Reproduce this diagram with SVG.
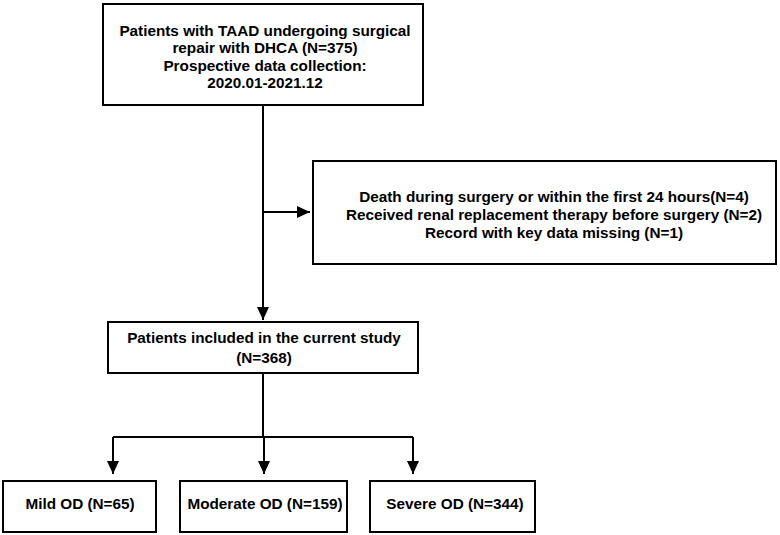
<svg xmlns="http://www.w3.org/2000/svg" width="780" height="535" viewBox="0 0 780 535">
<style>
.box{fill:#fff;stroke:#000;stroke-width:2}
.t{font-family:"Liberation Sans",Arial,sans-serif;font-weight:bold;font-size:15.3px;fill:#000;text-anchor:middle}
.ln{fill:none;stroke:#000;stroke-width:2}
</style>
<defs>
<marker id="ah" markerWidth="6.5" markerHeight="6" refX="6.5" refY="3" orient="auto" markerUnits="strokeWidth">
<path d="M0,0 L6.5,3 L0,6 Z" fill="#000"/>
</marker>
</defs>
<rect width="780" height="535" fill="#fff"/>
<g id="connectors">
<path class="ln" d="M263,105 V320" marker-end="url(#ah)"/>
<path class="ln" d="M263,212 H310" marker-end="url(#ah)"/>
<path class="ln" d="M263,373 V437"/>
<path class="ln" d="M113,437 H413"/>
<path class="ln" d="M113,437 V474" marker-end="url(#ah)"/>
<path class="ln" d="M264,437 V474" marker-end="url(#ah)"/>
<path class="ln" d="M413,437 V474" marker-end="url(#ah)"/>
</g>
<g id="n1">
<rect class="box" x="103" y="4" width="320" height="101"/>
<text class="t" x="265" y="35.5">Patients with TAAD undergoing surgical</text>
<text class="t" x="265" y="53">repair with DHCA (N=375)</text>
<text class="t" x="265" y="70.5">Prospective data collection:</text>
<text class="t" x="265" y="88">2020.01-2021.12</text>
</g>
<g id="n2">
<rect class="box" x="313" y="161" width="463" height="103"/>
<text class="t" x="554" y="202">Death during surgery or within the first 24 hours(N=4)</text>
<text class="t" x="554" y="220">Received renal replacement therapy before surgery (N=2)</text>
<text class="t" x="554" y="237.5">Record with key data missing (N=1)</text>
</g>
<g id="n3">
<rect class="box" x="108" y="322" width="310" height="51"/>
<text class="t" x="264" y="343">Patients included in the current study</text>
<text class="t" x="264" y="363">(N=368)</text>
</g>
<g id="n4">
<rect class="box" x="3" y="481" width="153" height="51"/>
<text class="t" x="80" y="508.5">Mild OD (N=65)</text>
</g>
<g id="n5">
<rect class="box" x="180" y="481" width="167" height="51"/>
<text class="t" x="265" y="508.5">Moderate OD (N=159)</text>
</g>
<g id="n6">
<rect class="box" x="370" y="481" width="165" height="51"/>
<text class="t" x="455" y="508.5">Severe OD (N=344)</text>
</g>
</svg>
